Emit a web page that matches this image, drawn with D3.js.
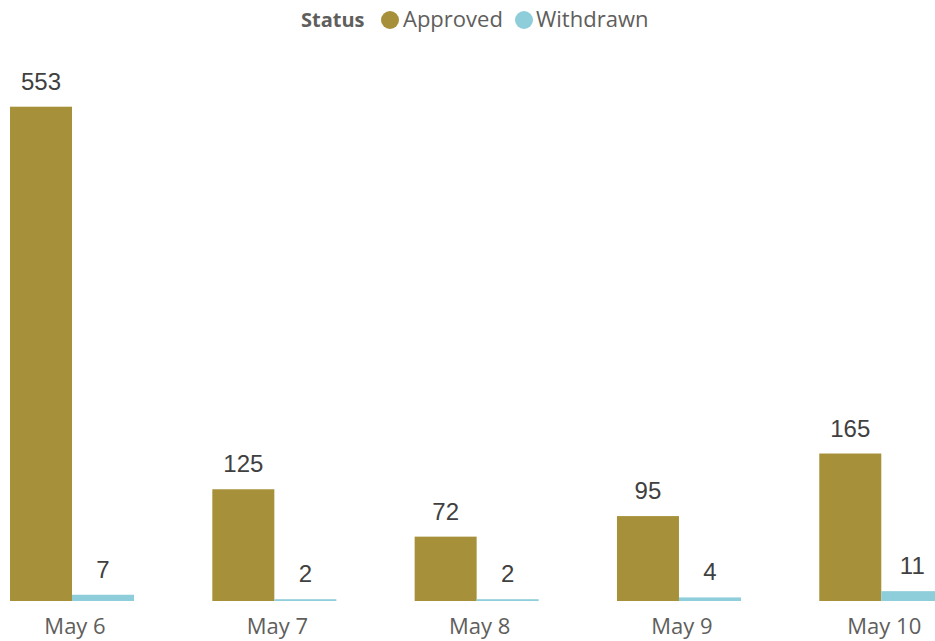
<!DOCTYPE html>
<html>
<head>
<meta charset="utf-8">
<script src="https://cdn.jsdelivr.net/npm/d3@7/dist/d3.min.js"></script>
<style>
  html, body { margin: 0; padding: 0; background: #ffffff; overflow: hidden; }
  svg { display: block; }
</style>
</head>
<body>
<div id="chart"></div>
<script>
// Daily counts by status
const days = ["May 6", "May 7", "May 8", "May 9", "May 10"];
const statuses = ["Approved", "Withdrawn"];
const approved = [553, 125, 72, 95, 165];
const withdrawn = [7, 2, 2, 4, 11];
const colors = ["#A6913A", "#8ECDDA"];

const W = 935, H = 641;
const baseY = 601;

const svg = d3.select("#chart").append("svg")
  .attr("width", W).attr("height", H);

const x0 = d3.scaleBand()
  .domain(days)
  .range([10, 943.3])
  .paddingInner(0.387)
  .paddingOuter(0);

const x1 = d3.scaleBand()
  .domain(statuses)
  .range([0, x0.bandwidth()])
  .padding(0);

const y = d3.scaleLinear()
  .domain([0, 553])
  .range([baseY, 106.7]);

const color = d3.scaleOrdinal().domain(statuses).range(colors);

const rows = days.map((d, i) => ({
  day: d,
  values: [
    { status: "Approved", value: approved[i] },
    { status: "Withdrawn", value: withdrawn[i] }
  ]
}));

const groups = svg.append("g").selectAll("g")
  .data(rows)
  .join("g")
  .attr("transform", d => `translate(${x0(d.day)},0)`);

groups.selectAll("rect")
  .data(d => d.values)
  .join("rect")
  .attr("x", d => x1(d.status))
  .attr("y", d => y(d.value))
  .attr("width", x1.bandwidth())
  .attr("height", d => baseY - y(d.value))
  .attr("fill", d => color(d.status));

// value labels above each bar
groups.selectAll("text.val")
  .data(d => d.values)
  .join("text")
  .attr("class", "val")
  .attr("x", d => x1(d.status) + x1.bandwidth() / 2)
  .attr("y", d => y(d.value) - 17)
  .attr("text-anchor", "middle")
  .attr("font-family", "Liberation Sans, Arial, sans-serif")
  .attr("font-size", 24)
  .attr("fill", "#404040")
  .text(d => d.value);

// category axis (no line, no ticks)
const xAxis = svg.append("g")
  .attr("transform", `translate(0,${baseY})`)
  .call(d3.axisBottom(x0).tickSize(0).tickPadding(0));
xAxis.select(".domain").remove();
xAxis.selectAll("text")
  .attr("x", 3)
  .attr("y", 33)
  .attr("dy", 0)
  .attr("font-family", "Open Sans, sans-serif")
  .attr("font-size", 22)
  .attr("fill", "#605E5C");

// legend
const legend = svg.append("g").attr("font-family", "Open Sans, sans-serif");
legend.append("text")
  .attr("x", 301).attr("y", 27)
  .attr("font-size", 20)
  .attr("font-weight", "bold")
  .attr("fill", "#605E5C")
  .text("Status");

const legendItems = [
  { status: "Approved", cx: 390, tx: 403 },
  { status: "Withdrawn", cx: 524, tx: 536 }
];
legendItems.forEach(it => {
  legend.append("circle")
    .attr("cx", it.cx).attr("cy", 20).attr("r", 9)
    .attr("fill", color(it.status));
  legend.append("text")
    .attr("x", it.tx).attr("y", 27)
    .attr("font-size", 22)
    .attr("fill", "#605E5C")
    .text(it.status);
});
</script>
</body>
</html>
